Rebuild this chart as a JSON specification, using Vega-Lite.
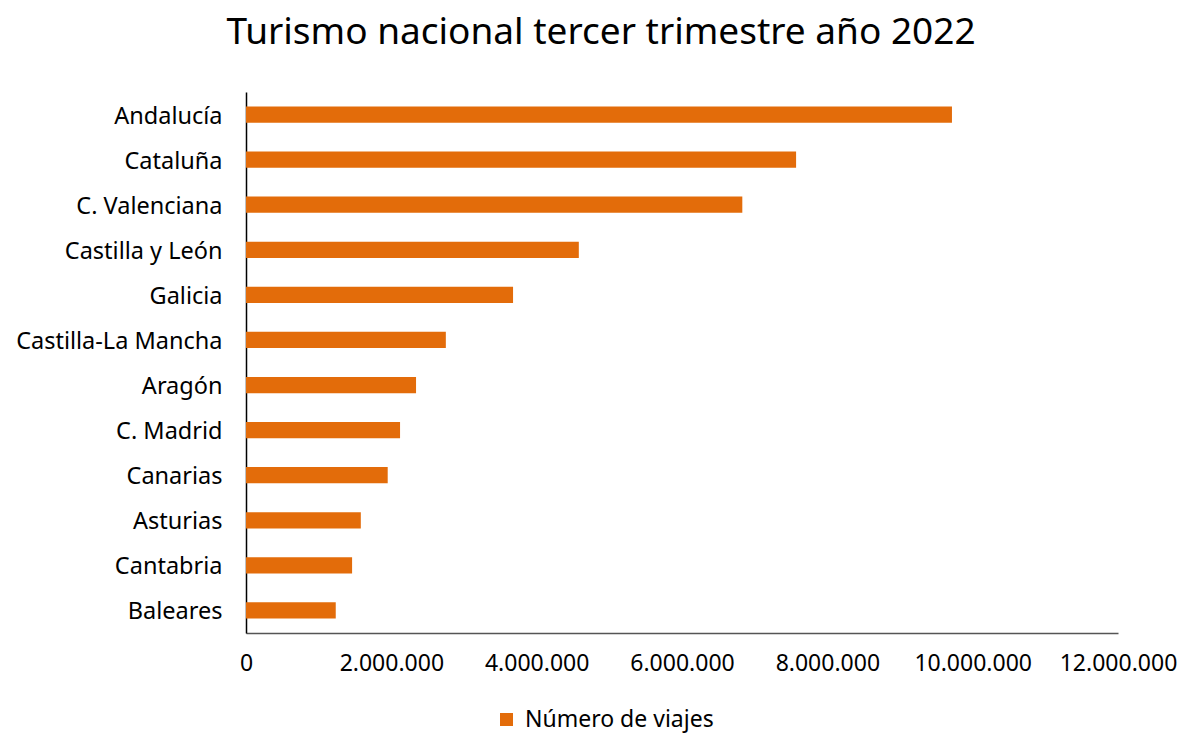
{
  "$schema": "https://vega.github.io/schema/vega-lite/v6.json",
  "autosize": {"type": "none"},
  "width": 872,
  "height": 541,
  "padding": {"left": 246, "top": 92, "right": 75, "bottom": 103},
  "background": "white",
  "config": {
    "view": {"stroke": null},
    "font": "Noto Sans",
    "locale": {"number": {"decimal": ",", "thousands": ".", "grouping": [3], "currency": ["", " €"]}}
  },
  "title": {
    "text": "Turismo nacional tercer trimestre año 2022",
    "fontSize": 37,
    "fontWeight": "normal",
    "color": "#000000",
    "anchor": "middle",
    "dx": -81,
    "offset": 40,
    "font": "Noto Sans"
  },
  "data": {
    "values": [
      {"region": "Andalucía", "viajes": 9715000, "serie": "Número de viajes"},
      {"region": "Cataluña", "viajes": 7570000, "serie": "Número de viajes"},
      {"region": "C. Valenciana", "viajes": 6830000, "serie": "Número de viajes"},
      {"region": "Castilla y León", "viajes": 4580000, "serie": "Número de viajes"},
      {"region": "Galicia", "viajes": 3675000, "serie": "Número de viajes"},
      {"region": "Castilla-La Mancha", "viajes": 2750000, "serie": "Número de viajes"},
      {"region": "Aragón", "viajes": 2340000, "serie": "Número de viajes"},
      {"region": "C. Madrid", "viajes": 2120000, "serie": "Número de viajes"},
      {"region": "Canarias", "viajes": 1950000, "serie": "Número de viajes"},
      {"region": "Asturias", "viajes": 1580000, "serie": "Número de viajes"},
      {"region": "Cantabria", "viajes": 1460000, "serie": "Número de viajes"},
      {"region": "Baleares", "viajes": 1235000, "serie": "Número de viajes"}
    ]
  },
  "mark": {"type": "bar"},
  "encoding": {
    "y": {
      "field": "region",
      "type": "nominal",
      "sort": null,
      "scale": {"paddingInner": 0.64, "paddingOuter": 0.32},
      "axis": {
        "title": null,
        "ticks": false,
        "domainColor": "#000000",
        "domainWidth": 1.5,
        "labelFontSize": 23.5,
        "labelColor": "#000000",
        "labelPadding": 24,
        "labelOffset": 2,
        "labelLimit": 400,
        "labelFont": "Noto Sans"
      }
    },
    "x": {
      "field": "viajes",
      "type": "quantitative",
      "scale": {"domain": [0, 12000000], "nice": false},
      "axis": {
        "title": null,
        "values": [0, 2000000, 4000000, 6000000, 8000000, 10000000, 12000000],
        "format": ",.0f",
        "grid": false,
        "ticks": false,
        "domainColor": "#555555",
        "domainWidth": 1.5,
        "labelFontSize": 23,
        "labelColor": "#000000",
        "labelPadding": 19,
        "labelFlush": false,
        "labelLimit": 400,
        "labelFont": "Noto Sans"
      }
    },
    "color": {
      "field": "serie",
      "type": "nominal",
      "scale": {"range": ["#E36C0A"]},
      "legend": {
        "title": null,
        "orient": "none",
        "legendX": 249,
        "legendY": 616,
        "symbolType": "square",
        "symbolSize": 169,
        "symbolStrokeWidth": 0,
        "labelFontSize": 23,
        "labelColor": "#000000",
        "labelFont": "Noto Sans",
        "labelLimit": 400,
        "labelOffset": 7
      }
    }
  }
}
